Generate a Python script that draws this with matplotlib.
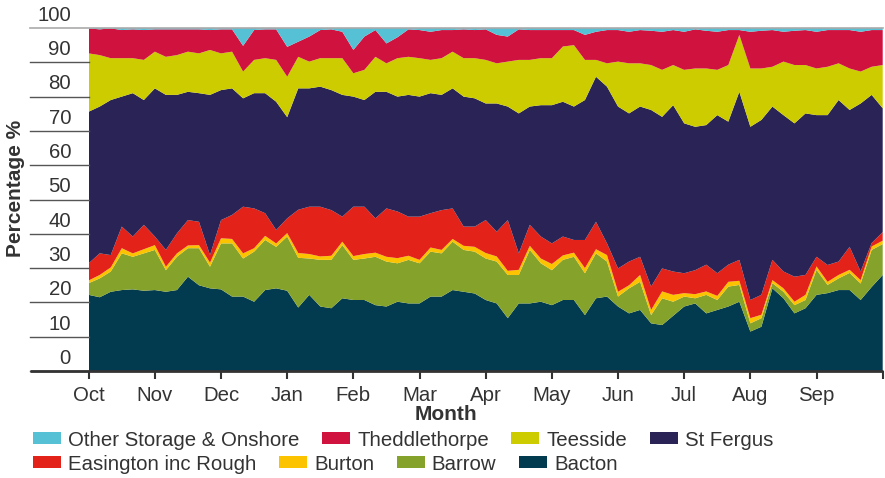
import numpy as np
import matplotlib.pyplot as plt
from matplotlib.patches import Patch
from matplotlib.transforms import blended_transform_factory

plt.rcParams['font.family'] = ['Liberation Sans', 'DejaVu Sans']

months = ['Oct', 'Nov', 'Dec', 'Jan', 'Feb', 'Mar', 'Apr', 'May', 'Jun', 'Jul', 'Aug', 'Sep']

# share of supply (%), sampled ~every 5 days from October to end of September
bacton = [22.2, 21.5, 23.1, 23.6, 23.8, 23.4, 23.6, 23.1, 23.6, 27.5, 25.0, 24.1,
          23.8, 21.7, 21.7, 20.2, 23.6, 24.1, 23.4, 18.5, 22.2, 18.8, 18.3, 21.2,
          20.7, 20.7, 19.2, 18.8, 20.2, 19.7, 19.7, 21.7, 21.7, 23.6, 23.1, 22.6,
          20.7, 19.7, 15.4, 19.7, 19.7, 20.2, 19.2, 20.7, 20.7, 16.3, 21.2, 21.7,
          18.8, 16.8, 17.8, 13.9, 13.4, 16.1, 18.8, 19.7, 16.8, 17.8, 18.8, 20.2,
          11.5, 12.9, 24.1, 21.2, 16.8, 18.3, 22.2, 22.7, 23.6, 23.6, 20.7, 24.5, 28.0]
barrow = [3.4, 5.5, 5.9, 10.7, 9.5, 10.9, 11.7, 6.3, 9.7, 8.3, 10.8, 6.3,
          13.4, 15.5, 11.1, 14.6, 14.6, 12.1, 15.8, 14.5, 10.6, 13.6, 14.1, 15.5,
          11.7, 12.1, 14.1, 13.1, 11.2, 12.7, 11.7, 13.1, 12.6, 14.1, 12.2, 12.2,
          12.1, 12.2, 12.6, 8.3, 15.6, 11.2, 10.2, 11.7, 12.6, 12.2, 13.1, 10.2,
          2.9, 7.3, 8.2, 2.4, 7.8, 4.1, 2.9, 1.5, 5.4, 2.9, 5.8, 4.9,
          2.4, 2.5, 1.5, 1.9, 2.4, 2.4, 7.3, 2.4, 3.4, 5.0, 4.8, 10.8, 9.0]
burton = [0.8, 1.0, 1.2, 1.5, 1.0, 1.2, 1.4, 1.0, 1.0, 0.8, 0.9, 1.2,
          1.5, 1.3, 1.5, 1.0, 1.2, 1.0, 1.0, 1.4, 1.3, 1.0, 1.2, 1.0,
          1.1, 1.3, 1.2, 1.4, 1.5, 1.2, 1.0, 1.2, 1.0, 0.8, 1.2, 1.4,
          1.6, 1.5, 1.2, 1.5, 1.2, 1.4, 1.8, 1.3, 1.2, 1.5, 1.2, 1.9,
          1.4, 0.9, 2.0, 1.5, 2.0, 2.0, 1.0, 1.2, 1.0, 1.2, 1.4, 1.2,
          1.5, 1.0, 0.9, 1.0, 1.0, 1.5, 1.0, 0.9, 1.0, 0.9, 1.0, 1.0, 1.0]
easington = [5.0, 6.3, 3.6, 6.3, 4.9, 7.1, 2.5, 4.9, 5.8, 7.4, 6.8, 2.2,
             5.3, 7.0, 13.6, 11.6, 6.6, 3.9, 4.3, 12.6, 13.8, 14.5, 13.3, 7.3,
             14.4, 13.8, 10.0, 14.1, 13.6, 11.4, 12.6, 10.0, 11.6, 8.9, 5.6, 5.9,
             9.6, 7.2, 14.8, 4.8, 6.1, 6.4, 6.0, 5.5, 3.7, 8.2, 8.0, 3.4,
             6.8, 6.9, 5.3, 6.8, 6.7, 6.8, 5.8, 7.0, 7.8, 6.6, 5.0, 6.1,
             5.3, 5.8, 5.9, 4.9, 7.3, 5.8, 2.8, 4.9, 3.9, 6.7, 2.5, 1.0, 2.5]
st_fergus = [44.2, 42.8, 45.2, 37.9, 41.8, 36.4, 43.2, 45.2, 40.4, 37.4, 37.5, 46.7,
             37.9, 36.9, 31.6, 33.6, 35.0, 37.4, 29.5, 35.4, 34.5, 35.0, 35.0, 35.5,
             32.1, 31.1, 36.9, 34.0, 33.5, 35.5, 35.0, 35.0, 33.6, 35.0, 37.9, 37.4,
             34.0, 37.4, 33.1, 40.8, 34.5, 38.3, 40.3, 39.3, 38.9, 40.8, 42.3, 45.7,
             47.2, 43.2, 43.8, 51.5, 44.2, 48.5, 43.7, 41.8, 40.7, 46.1, 41.7, 49.0,
             50.5, 51.0, 44.7, 45.6, 44.7, 47.1, 41.3, 43.7, 47.1, 39.9, 49.0, 43.2, 36.1]
teesside = [17.0, 15.0, 12.2, 11.2, 10.2, 11.7, 10.7, 11.1, 11.6, 11.7, 11.6, 13.1,
            10.7, 10.7, 7.8, 9.7, 10.2, 12.2, 11.8, 9.2, 7.8, 8.3, 9.3, 10.7,
            6.8, 8.8, 10.2, 8.3, 11.2, 11.1, 11.2, 9.7, 10.7, 10.7, 11.2, 11.7,
            12.7, 11.7, 13.1, 15.6, 13.6, 13.7, 13.7, 16.1, 17.9, 11.7, 4.9, 6.8,
            13.1, 14.6, 12.6, 13.1, 13.7, 11.7, 15.6, 17.0, 16.5, 13.2, 16.5, 16.6,
            17.0, 15.0, 11.6, 15.6, 17.0, 14.1, 13.6, 14.1, 10.7, 12.1, 9.3, 8.2, 12.6]
theddlethorpe = [7.3, 7.5, 8.7, 8.2, 8.4, 8.7, 6.5, 8.0, 7.5, 6.5, 7.0, 5.8,
                 7.0, 6.5, 7.5, 8.7, 8.4, 8.9, 8.7, 4.4, 7.3, 8.2, 8.4, 7.7,
                 6.8, 9.7, 7.8, 5.8, 6.1, 8.0, 8.2, 8.2, 8.2, 6.3, 8.4, 8.2,
                 8.9, 8.3, 7.3, 8.9, 8.7, 8.2, 8.2, 4.8, 4.4, 7.3, 8.2, 9.7,
                 9.2, 9.2, 9.7, 10.0, 11.1, 10.2, 11.1, 11.4, 11.0, 11.1, 10.2, 1.4,
                 10.7, 11.0, 10.7, 8.7, 10.0, 10.2, 10.7, 10.7, 9.7, 11.2, 11.6, 10.7, 10.2]
other = [0.1, 0.4, 0.1, 0.6, 0.4, 0.6, 0.4, 0.4, 0.4, 0.4, 0.4, 0.6,
         0.4, 0.4, 5.2, 0.6, 0.4, 0.4, 5.5, 4.0, 2.5, 0.6, 0.4, 1.1,
         6.4, 2.5, 0.6, 4.5, 2.7, 0.4, 0.6, 1.1, 0.6, 0.6, 0.4, 0.6,
         0.4, 2.0, 2.5, 0.4, 0.6, 0.6, 0.6, 0.6, 0.6, 2.0, 1.1, 0.6,
         0.6, 1.1, 0.6, 0.8, 1.1, 0.6, 1.1, 0.4, 0.8, 1.1, 0.6, 0.6,
         1.1, 0.8, 0.6, 1.1, 0.8, 0.6, 1.1, 0.6, 0.6, 0.6, 1.1, 0.6, 0.6]

series = [bacton, barrow, burton, easington, st_fergus, teesside, theddlethorpe, other]
names = ['Bacton', 'Barrow', 'Burton', 'Easington inc Rough', 'St Fergus',
         'Teesside', 'Theddlethorpe', 'Other Storage & Onshore']
colors = ['#023b4f', '#85a32b', '#fbc300', '#e32219', '#2a2456',
          '#cccc00', '#d0123f', '#56c1d4']

x = np.arange(len(bacton))
W, H = 885, 478
fig = plt.figure(figsize=(W / 100, H / 100), dpi=100)
ax = fig.add_axes([88.7 / W, 1 - 371 / H, 794 / W, 343 / H])
ax.stackplot(x, *series, colors=colors, linewidth=0)
ax.set_xlim(0, x[-1])
ax.set_ylim(0, 100)
for s in ax.spines.values():
    s.set_visible(False)

txt = '#333333'
fs = 14.7
ax.set_xticks(np.arange(0, 73, 6))
ax.set_xticklabels(months + [''])
ax.tick_params(axis='x', length=6, width=1.5, color=txt, pad=5, labelsize=fs, labelcolor=txt)
ax.set_yticks([])

tr = blended_transform_factory(ax.transAxes, ax.transData)
left = (30 - 88.7) / 794
for v in range(0, 100, 10):
    ax.plot([left, 0], [v, v], transform=tr, color='#555555', lw=1, clip_on=False)
    ax.text((71 - 88.7) / 794, v + 3.7, str(v), transform=tr, ha='right', va='center',
            fontsize=fs, color=txt)
ax.text((71 - 88.7) / 794, 103.7, '100', transform=tr, ha='right', va='center',
        fontsize=fs, color=txt)
ax.plot([left, 1], [100, 100], transform=tr, color='#aaaaaa', lw=1.2, clip_on=False)
ax.plot([left, 1], [0, 0], transform=tr, color=txt, lw=2, clip_on=False,
        solid_capstyle='butt')

fig.text(446 / W, 1 - 414 / H, 'Month', ha='center', va='center', fontsize=15,
         weight='bold', color=txt)
fig.text(16 / W, 1 - 188 / H, 'Percentage %', ha='center', va='center', fontsize=15,
         weight='bold', color=txt, rotation=90)

rows = [[7, 6, 5, 4], [3, 2, 1, 0]]
for row, yc in zip(rows, [440, 464]):
    handles = [Patch(facecolor=colors[k], edgecolor='none') for k in row]
    fig.legend(handles, [names[k] for k in row], loc='center left',
               bbox_to_anchor=(33 / W, 1 - yc / H), ncol=4, frameon=False,
               fontsize=fs, handlelength=1.37, handleheight=0.54,
               handletextpad=0.35, columnspacing=1.1, borderpad=0,
               borderaxespad=0, labelcolor=txt)

fig.savefig('out.png', dpi=100)
